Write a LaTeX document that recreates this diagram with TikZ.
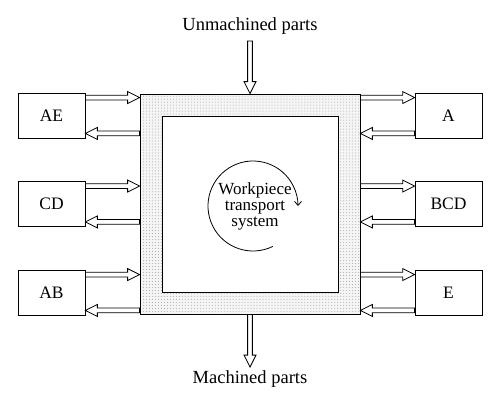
\documentclass[tikz,border=0pt]{standalone}
\usepackage{fontspec}
\setmainfont{Liberation Serif}
\usetikzlibrary{arrows.meta,patterns,calc}
\tikzset{
  station/.style={draw, line width=0.8bp, minimum width=67bp, minimum height=45bp, inner sep=0pt},
  flow/.style={draw, fill=white, line width=0.8bp, line join=miter, to path={
    let \p1=($(\tikztotarget)-(\tikztostart)$), \n1={veclen(\x1,\y1)}, \n2={atan2(\y1,\x1)} in
    {[shift={(\tikztostart)}, rotate=\n2] (0pt,-2.4pt) -- (\n1-12pt,-2.4pt) -- (\n1-12pt,-6pt) -- (\n1,0pt)
     -- (\n1-12pt,6pt) -- (\n1-12pt,2.4pt) -- (0pt,2.4pt) -- cycle}}},
}
\begin{document}
\begin{tikzpicture}[x=1bp,y=1bp,font=\fontsize{17.5bp}{16bp}\selectfont]
  \useasboundingbox (0,0) rectangle (500,407);
  \node[draw, line width=0.8bp, minimum size=220bp, preaction={fill=gray!8}, pattern=dots, pattern color=gray!70] (cell) at (250,203) {};
  \node[draw, line width=0.8bp, fill=white, minimum size=176bp] (inner) at (250,203) {};
  \node[align=center, font=\fontsize{17bp}{16bp}\selectfont] (wts) at (255,201) {Workpiece\\transport\\system};
  \coordinate (hub) at (253,201);
  \draw[line width=0.8bp, -{Straight Barb[length=4bp, width=7bp]}] (hub) ++(-64:45) arc[start angle=-64, end angle=-360, radius=45];
  \node[font=\fontsize{18.5bp}{20bp}\selectfont] (unmachined) at (250,381) {Unmachined parts};
  \node[font=\fontsize{18.5bp}{20bp}\selectfont] (machined) at (250,28) {Machined parts};
  \draw[flow] ([yshift=-3bp]unmachined.south) to (cell.north);
  \draw[flow] (cell.south) to (machined.north);
  \node[station] (ae) at (51.5,291.5) {AE};
  \node[station] (cd) at (51.5,203) {CD};
  \node[station] (ab) at (51.5,114.5) {AB};
  \node[station] (a) at (448.5,291.5) {A};
  \node[station] (bcd) at (448.5,203) {BCD};
  \node[station] (e) at (448.5,114.5) {E};
  \foreach \s in {ae,cd,ab} {
    \draw[flow] ([yshift=-5bp]\s.north east) to ([yshift=-5bp]\s.north east -| cell.west);
    \draw[flow] ([yshift=5bp]\s.south east -| cell.west) to ([yshift=5bp]\s.south east);
  }
  \foreach \s in {a,bcd,e} {
    \draw[flow] ([yshift=-5bp]\s.north west -| cell.east) to ([yshift=-5bp]\s.north west);
    \draw[flow] ([yshift=5bp]\s.south west) to ([yshift=5bp]\s.south west -| cell.east);
  }
\end{tikzpicture}
\end{document}
